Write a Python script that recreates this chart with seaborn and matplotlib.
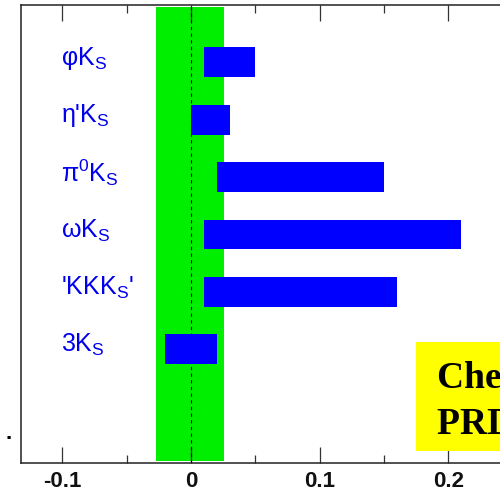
import matplotlib
matplotlib.use("Agg")
import matplotlib.pyplot as plt
from matplotlib.patches import Rectangle
from matplotlib.ticker import MultipleLocator, FixedLocator
import seaborn as sns
import pandas as pd

# Decay modes and the ranges of Delta S for each mode
modes = ["φK$_\\mathregular{S}$", "η'K$_\\mathregular{S}$",
         "π$^\\mathregular{0}$K$_\\mathregular{S}$", "ωK$_\\mathregular{S}$",
         "'KKK$_\\mathregular{S}$'", "3K$_\\mathregular{S}$"]
range_low = [0.01, 0.0, 0.02, 0.01, 0.01, -0.02]
range_high = [0.05, 0.03, 0.15, 0.21, 0.16, 0.02]

# Band around zero (experimental window)
band_low, band_high = -0.027, 0.026
xticks = [-0.1, 0.0, 0.1, 0.2]
xtick_labels = ["-0.1", "0", "0.1", "0.2"]

sns.set_theme(style="white")
plt.rcParams["font.family"] = ["Liberation Sans", "DejaVu Sans"]
plt.rcParams["text.color"] = "black"

df = pd.DataFrame({
    "pos": list(range(len(modes))),
    "low": range_low,
    "high": range_high,
})
df["span"] = df["high"] - df["low"]

fig = plt.figure(figsize=(5.0, 4.94), dpi=100)
ax = fig.add_axes([0.042, 0.0628, 0.9836, 0.9271])

sns.barplot(data=df, x="span", y="pos", orient="h", native_scale=True,
            width=0.52, color="#0000ff", saturation=1, linewidth=0, ax=ax, zorder=2)
# shift each bar so it starts at its lower bound
for patch, lo in zip(ax.containers[0], df["low"]):
    patch.set_x(lo)

ax.axvspan(band_low, band_high, ymin=0.004, ymax=0.996, color="#00ee00", lw=0, zorder=0)
ax.axvline(0.0, color="black", lw=0.8, ls=(0, (3, 3)), zorder=1)

for i, name in enumerate(modes):
    ax.text(-0.101, i - 0.07, name, color="#0000ee", fontsize=18,
            ha="left", va="center", zorder=3)

ax.set_xlim(-0.132, 0.25)
ax.set_ylim(6.98, -1.0)
ax.set_xlabel("")
ax.set_ylabel("")
ax.set_yticks([])
ax.xaxis.set_major_locator(FixedLocator(xticks))
ax.set_xticklabels(xtick_labels, fontsize=16, fontweight="bold", color="#111111")
ax.xaxis.set_minor_locator(MultipleLocator(0.05))
ax.tick_params(axis="x", which="major", direction="in", length=11.5, width=0.9,
               color="#333333", top=True, bottom=True, pad=6)
ax.tick_params(axis="x", which="minor", direction="in", length=5.8, width=0.9,
               color="#333333", top=True, bottom=True)
for side in ["left", "top", "bottom"]:
    ax.spines[side].set_color("#222222")
    ax.spines[side].set_linewidth(1.1)
ax.spines["right"].set_visible(False)

# Reference box
fig.patches.append(Rectangle((0.832, 0.087), 0.5, 0.2206, transform=fig.transFigure,
                             facecolor="#ffff00", edgecolor="none", zorder=5))
fig.text(0.8734, 0.2146, "Cheng et al.", fontsize=27, fontweight="bold",
         family="Liberation Serif", color="black", ha="left", va="baseline", zorder=6)
fig.text(0.8734, 0.1235, "PRD 72, 094003", fontsize=27, fontweight="bold",
         family="Liberation Serif", color="black", ha="left", va="baseline", zorder=6)

fig.text(0.018, 0.111, ".", fontsize=16, fontweight="bold", color="black",
         ha="center", va="baseline")

fig.savefig("out.png", dpi=100)
